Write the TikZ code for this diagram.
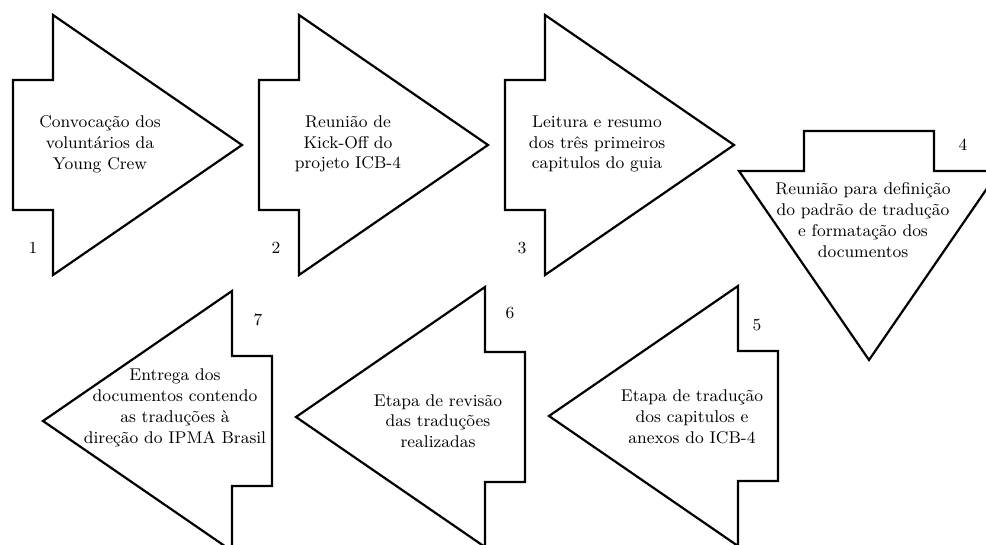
\documentclass[tikz,border=0pt]{standalone}
\usepackage{fontspec}
\usetikzlibrary{positioning}
\tikzset{
	contorno/.style={draw=black, line width=1.1pt, fill=white, line join=miter},
	texto/.style={align=center, inner sep=0pt, font=\fontsize{8.5}{10.4}\selectfont},
	numero/.style={inner sep=0pt, font=\fontsize{8.5}{10.4}\selectfont},
	seta/.pic={\draw[contorno] (-40,-65) -- (0,-65) -- (0,-130) -- (189,0) -- (0,130) -- (0,65) -- (-40,65) -- cycle;}
}

\begin{document}
\begin{tikzpicture}[x=0.5pt, y=-0.5pt]
	\useasboundingbox (0,0) rectangle (986,545);
	\clip (0,0) rectangle (986,545);
	
	% Setas
	\pic (s1) at (53,145) {seta};
	\pic (s2) at (299,145) {seta};
	\pic (s3) at (545,145) {seta};
	\pic[rotate=-90] (s4) at (869,171) {seta};
	\pic[rotate=180] (s5) at (738,416) {seta};
	\pic[rotate=180] (s6) at (485,417) {seta};
	\pic[rotate=180] (s7) at (232,421) {seta};
	
	% Textos
	\node (t1) [texto] at (100,144) {Convocação dos\\voluntários da\\Young Crew};
	\node (t2) [texto] at (348,144) {Reunião de\\Kick-Off do\\projeto ICB-4};
	\node (t3) [texto] at (597,144) {Leitura e resumo\\dos três primeiros\\capitulos do guia};
	\node (t4) [texto] at (863,220) {Reunião para definição\\do padrão de tradução\\e formatação dos\\documentos};
	\node (t5) [texto] at (692,417) {Etapa de tradução\\dos capitulos e\\anexos do ICB-4};
	\node (t6) [texto] at (438,421) {Etapa de revisão\\das traduções\\realizadas};
	\node (t7) [texto] at (175,408) {Entrega dos\\documentos contendo\\as traduções à\\direção do IPMA Brasil};
	
	% Numeros
	\node (n1) [numero] at (33,248) {1};
	\node (n2) [numero] at (276,248) {2};
	\node (n3) [numero] at (522,248) {3};
	\node (n4) [numero] at (963,145) {4};
	\node (n5) [numero] at (757,325) {5};
	\node (n6) [numero] at (510,313) {6};
	\node (n7) [numero] at (258,320) {7};
	
\end{tikzpicture}
\end{document}
